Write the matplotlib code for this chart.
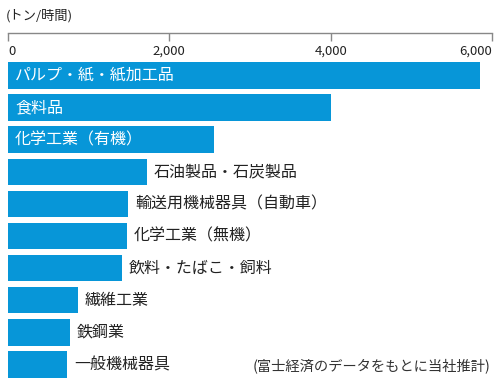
import matplotlib
matplotlib.use("Agg")
import matplotlib.pyplot as plt

plt.rcParams['font.family'] = ['Noto Sans CJK JP', 'DejaVu Sans']

# data (tons / hour)
industries = ['パルプ・紙・紙加工品', '食料品', '化学工業（有機）', '石油製品・石炭製品',
              '輸送用機械器具（自動車）', '化学工業（無機）', '飲料・たばこ・飼料',
              '繊維工業', '鉄鋼業', '一般機械器具']
values = [5850, 4000, 2550, 1720, 1490, 1475, 1410, 865, 770, 730]
xticks = [0, 2000, 4000, 6000]
xtick_labels = ['0', '2,000', '4,000', '6,000']

blue = '#0796d8'
ink = '#222222'

fig = plt.figure(figsize=(5, 3.87), dpi=100)
ax = fig.add_axes([0.016, 0.0, 0.968, 0.9147])

ypos = list(range(len(industries)))
ax.barh(ypos, values, height=0.82, color=blue)

ax.set_xlim(0, 6000)
ax.set_ylim(9.70, -1.32)

# bar labels: inside (white) for long bars, outside otherwise
for y, v, name in zip(ypos, values, industries):
    if v > 2000:
        ax.annotate(name, (0, y), xytext=(5, 0), textcoords='offset points',
                    ha='left', va='center', color='white', fontsize=11.5)
    else:
        ax.annotate(name, (v, y), xytext=(5, 0), textcoords='offset points',
                    ha='left', va='center', color=ink, fontsize=11.5)

# axis on top, labels sitting under the line
for s in ['bottom', 'left', 'right']:
    ax.spines[s].set_visible(False)
ax.spines['top'].set_color('#888888')
ax.spines['top'].set_linewidth(1.0)
ax.set_yticks([])
ax.xaxis.tick_top()
ax.set_xticks(xticks)
ax.set_xticklabels(xtick_labels)
ax.tick_params(axis='x', direction='in', length=6, width=1.0, color='#888888',
               labelsize=9.5, labelcolor=ink, pad=-18)
labels = ax.get_xticklabels()
labels[0].set_ha('left')
labels[-1].set_ha('right')

fig.text(0.012, 0.960, '(トン/時間)', fontsize=9.5, color=ink, ha='left', va='center')
fig.text(0.982, 0.055, '(富士経済のデータをもとに当社推計)', fontsize=10.3,
         color='#333333', ha='right', va='center')

fig.savefig('out.png', dpi=100)
